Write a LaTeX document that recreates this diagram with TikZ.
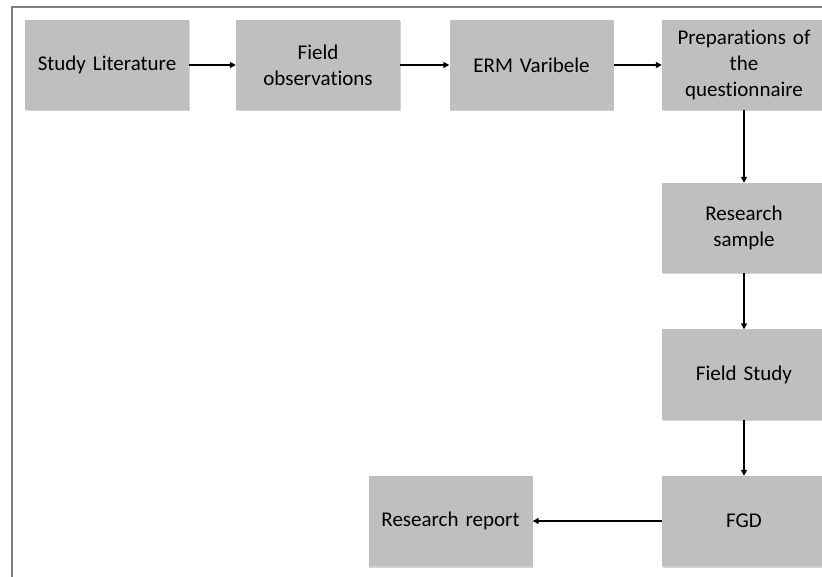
\documentclass[tikz,border=0pt]{standalone}
\usepackage{fontspec}
\setmainfont{Carlito}[Ligatures=NoCommon]
\usetikzlibrary{arrows.meta,shadows}
\definecolor{boxgray}{HTML}{BFBFBF}
\definecolor{framegray}{HTML}{7F7F7F}
\tikzset{
  stepbox/.style={fill=boxgray, minimum width=164pt, minimum height=90pt,
    inner sep=2pt, align=center, text width=158pt,
    font=\fontsize{21pt}{26pt}\selectfont,
    drop shadow={shadow xshift=0.8pt, shadow yshift=-1.5pt, opacity=0.35, fill=gray}},
  link/.style={line width=2pt, -{Triangle[length=6pt,width=6pt]}}
}
\begin{document}
\begin{tikzpicture}[x=1pt,y=-1pt]
\useasboundingbox (0,0) rectangle (822,577);
\begin{scope}
\clip (0,0) rectangle (822,577);
\draw[framegray, line width=1.2pt] (12,600) -- (12,7) -- (900,7);
\node[stepbox] (lit) at (107,65) {Study Literature};
\node[stepbox] (obs) at (318,65) {Field\\observations};
\node[stepbox] (erm) at (531.5,65) {ERM Varibele};
\node[stepbox] (prep) at (744,65) {Preparations of\\the\\questionnaire};
\node[stepbox] (samp) at (744,228) {Research\\sample};
\node[stepbox] (fs) at (744,374.5) {Field Study};
\node[stepbox] (fgd) at (744,521) {FGD};
\node[stepbox] (rep) at (450.5,521) {Research report};
\draw[link] (lit) -- (obs);
\draw[link] (obs) -- (erm);
\draw[link] (erm) -- (prep);
\draw[link] (prep) -- (samp);
\draw[link] (samp) -- (fs);
\draw[link] (fs) -- (fgd);
\draw[link] (fgd) -- (rep);
\end{scope}
\end{tikzpicture}
\end{document}
